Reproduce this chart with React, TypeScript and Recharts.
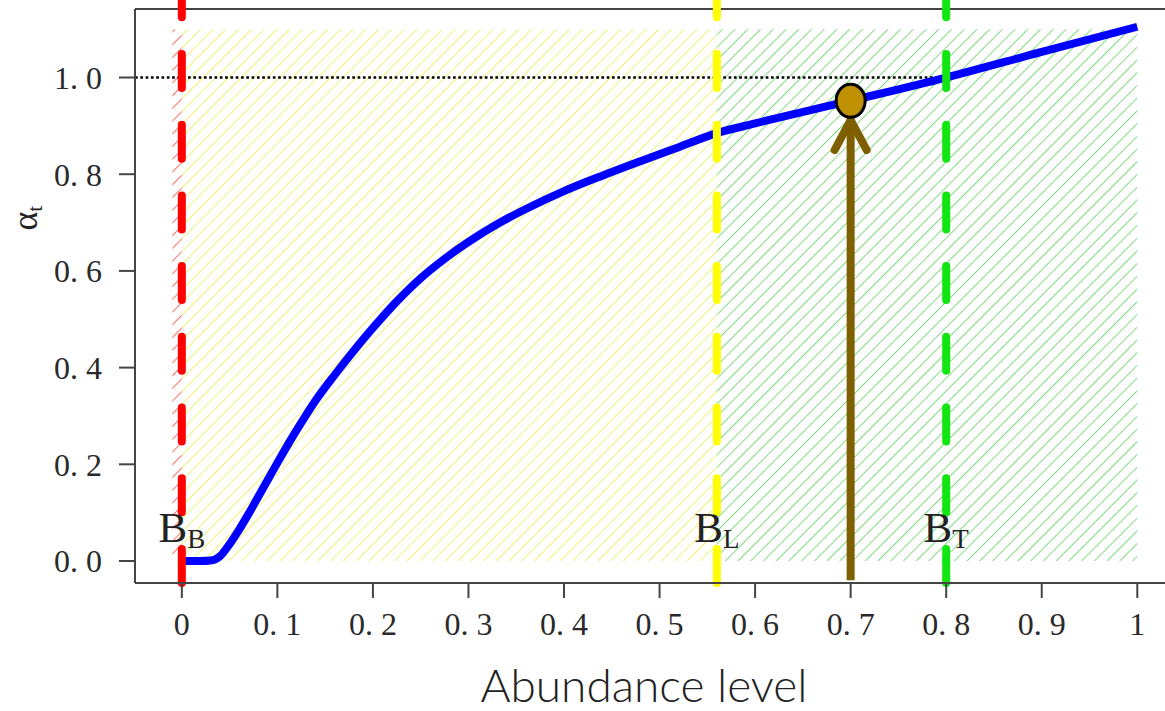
import React from 'react'
import { LineChart, Line, XAxis, YAxis, ReferenceArea, ReferenceLine, ReferenceDot } from 'recharts'

// alpha_t response curve over abundance level
const curveX = [0, 0.01, 0.02, 0.03, 0.04, 0.05, 0.06, 0.07, 0.08, 0.09, 0.1, 0.12, 0.14, 0.16, 0.18, 0.2, 0.225, 0.25, 0.275, 0.3, 0.333, 0.36, 0.4, 0.44, 0.48, 0.52, 0.56, 0.6, 0.7, 0.8, 0.9, 1.0]
const curveY = [0, 0, 0, 0.001, 0.01, 0.035, 0.065, 0.098, 0.133, 0.168, 0.203, 0.27, 0.332, 0.385, 0.435, 0.482, 0.537, 0.585, 0.625, 0.66, 0.7, 0.728, 0.765, 0.797, 0.827, 0.856, 0.885, 0.905, 0.952, 1.0, 1.053, 1.105]

const xTicks = [0, 0.1, 0.2, 0.3, 0.4, 0.5, 0.6, 0.7, 0.8, 0.9, 1]
const yTicks = [0, 0.2, 0.4, 0.6, 0.8, 1.0]

// reference points B_B, B_L, B_T
const refNames = ['B', 'L', 'T']
const refX = [0, 0.56, 0.8]
const refColors = ['#ff0000', '#ffff00', '#11e611']

// hatched zones
const zoneX1 = [-0.01, 0, 0.56]
const zoneX2 = [0, 0.56, 1.0]
const zoneTop = 1.1
const zoneFills = ['url(#hatchRed)', 'url(#hatchYellow)', 'url(#hatchGreen)']

// current state marker
const currentX = 0.7
const currentY = 0.952
const arrowBase = -0.04
const arrowTip = 0.912
const arrowHeadY = 0.85
const arrowHeadDx = 0.0168

const target = 1.0

const X_DOMAIN: [number, number] = [-0.049, 1.029]
const Y_DOMAIN: [number, number] = [-0.0455, 1.1417]
const LINE_TOP = 1.18
const LABEL_Y = 0.039

const data = curveX.map((x, i) => ({ x, y: curveY[i] }))

const fmt = (v: number) => (v === 0 || v === 1 ? String(v) : v.toFixed(1).replace('.', '. '))
const fmtY = (v: number) => v.toFixed(1).replace('.', '. ')

const serif = '"Liberation Serif", "DejaVu Serif", serif'
const tickStyle = { fontFamily: serif, fontSize: 32, fill: '#2a2a2a' }

function Hatch({ id, color }: { id: string; color: string }) {
  return (
    <pattern id={id} width={9} height={9} patternUnits="userSpaceOnUse" patternTransform="rotate(45)">
      <line x1={0} y1={0} x2={0} y2={9} stroke={color} strokeWidth={1.6} />
    </pattern>
  )
}

export default function App() {
  return (
    <div style={{ position: 'absolute', left: 0, top: 0, background: '#fff' }}>
      <LineChart width={1165} height={711} data={data} margin={{ top: 9, right: 0, bottom: 0, left: 0 }}>
        <defs>
          <Hatch id="hatchRed" color="#ff4a4a" />
          <Hatch id="hatchYellow" color="#ecec55" />
          <Hatch id="hatchGreen" color="#62d262" />
        </defs>
        <XAxis
          dataKey="x"
          type="number"
          domain={X_DOMAIN}
          ticks={xTicks}
          tickFormatter={fmt}
          allowDataOverflow
          height={128}
          tickSize={15}
          tickMargin={14}
          tick={tickStyle}
          stroke="#444"
          strokeWidth={2}
          label={{
            content: (p: any) => (
              <text
                x={p.viewBox.x + p.viewBox.width / 2 - 6}
                y={702}
                textAnchor="middle"
                fontFamily="Lato, 'Open Sans', sans-serif"
                fontWeight={300}
                fontSize={46}
                fill="#222"
              >
                Abundance level
              </text>
            ),
          }}
        />
        <YAxis
          type="number"
          domain={Y_DOMAIN}
          ticks={yTicks}
          tickFormatter={fmtY}
          allowDataOverflow
          width={135}
          tickSize={16}
          tickMargin={17}
          tick={tickStyle}
          stroke="#444"
          strokeWidth={2}
        />
        {/* y axis title, reading bottom to top */}
        <g transform="translate(37 218) rotate(-90)">
          <text x={0} y={0} textAnchor="middle" fontFamily={serif} fill="#222">
            <tspan fontSize={36}>α</tspan>
            <tspan fontSize={22} dy={5}>t</tspan>
          </text>
        </g>

        {/* top frame line */}
        <ReferenceLine y={Y_DOMAIN[1]} stroke="#444" strokeWidth={2} ifOverflow="visible" />

        {zoneX1.map((x1, i) => (
          <ReferenceArea key={`zone-${i}`} x1={x1} x2={zoneX2[i]} y1={0} y2={zoneTop} fill={zoneFills[i]} fillOpacity={1} stroke="none" ifOverflow="visible" />
        ))}

        <ReferenceLine
          segment={[{ x: X_DOMAIN[0], y: target }, { x: 0.8, y: target }]}
          stroke="#000"
          strokeWidth={2.5}
          strokeDasharray="2.7 2.6"
        />

        <Line type="monotone" dataKey="y" stroke="#0000ff" strokeWidth={8} dot={false} isAnimationActive={false} />

        {refX.map((x, i) => (
          <ReferenceLine
            key={`ref-${i}`}
            segment={[{ x, y: LINE_TOP }, { x, y: Y_DOMAIN[0] }]}
            stroke={refColors[i]}
            strokeWidth={8}
            strokeDasharray="34 36.7"
            strokeDashoffset={7.2}
            strokeLinecap="round"
            ifOverflow="visible"
          />
        ))}

        {refX.map((x, i) => (
          <ReferenceDot
            key={`lbl-${i}`}
            x={x}
            y={LABEL_Y}
            r={0}
            ifOverflow="visible"
            shape={(p: any) => (
              <text x={p.cx} y={p.cy} textAnchor="middle" fontFamily={serif} fill="#222">
                <tspan fontSize={43}>B</tspan>
                <tspan fontSize={27} dy={6}>{refNames[i]}</tspan>
              </text>
            )}
          />
        ))}

        {/* arrow up to the current state */}
        <ReferenceLine
          segment={[{ x: currentX, y: arrowBase }, { x: currentX, y: arrowTip }]}
          stroke="#7f6000"
          strokeWidth={8}
          ifOverflow="visible"
        />
        <ReferenceLine
          segment={[{ x: currentX - arrowHeadDx, y: arrowHeadY }, { x: currentX, y: arrowTip }]}
          stroke="#7f6000"
          strokeWidth={8}
          strokeLinecap="round"
        />
        <ReferenceLine
          segment={[{ x: currentX + arrowHeadDx, y: arrowHeadY }, { x: currentX, y: arrowTip }]}
          stroke="#7f6000"
          strokeWidth={8}
          strokeLinecap="round"
        />
        <ReferenceDot
          x={currentX}
          y={currentY}
          r={15}
          shape={(p: any) => <ellipse cx={p.cx} cy={p.cy} rx={14.5} ry={16.5} fill="#bf9000" stroke="#000" strokeWidth={3} />}
        />
      </LineChart>
    </div>
  )
}
